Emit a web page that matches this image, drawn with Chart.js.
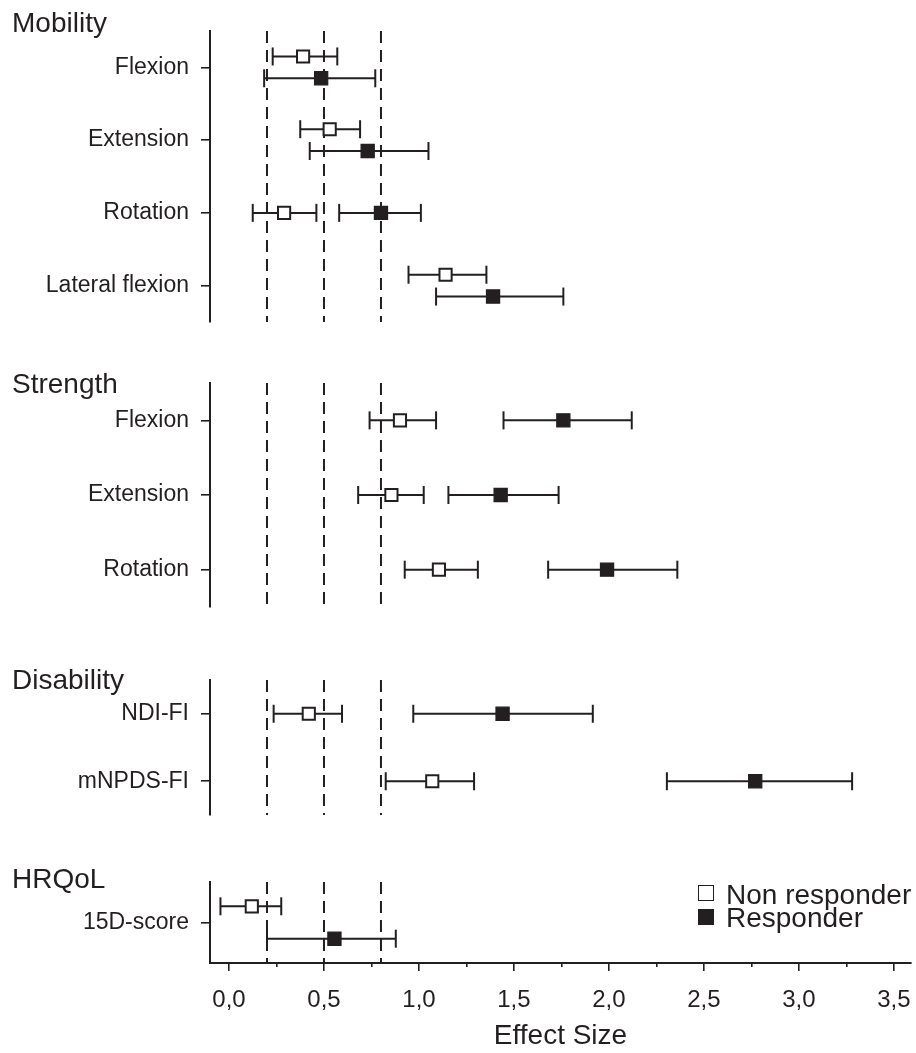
<!DOCTYPE html>
<html>
<head>
<meta charset="utf-8">
<title>Effect Size forest plot</title>
<script src="https://cdn.jsdelivr.net/npm/chart.js@4.4.1/dist/chart.umd.min.js"></script>
<style>
  html, body { margin: 0; padding: 0; background: #ffffff; }
  body { width: 916px; height: 1053px; position: relative; overflow: hidden;
         font-family: 'Liberation Sans', Arial, Helvetica, sans-serif; color: #231f20; }
  canvas { position: absolute; left: 0; }
  .ptitle { position: absolute; left: 12px; font-size: 28px; line-height: 28px; white-space: nowrap; }
  .legtext { position: absolute; left: 726px; font-size: 28px; line-height: 28px; white-space: nowrap; }
  .legbox { position: absolute; left: 698px; box-sizing: border-box; width: 16px; height: 16px; border: 1.6px solid #231f20; }
</style>
</head>
<body>
<canvas id="c0"></canvas>
<canvas id="c1"></canvas>
<canvas id="c2"></canvas>
<canvas id="c3"></canvas>

<div class="ptitle" id="t0"></div>
<div class="ptitle" id="t1"></div>
<div class="ptitle" id="t2"></div>
<div class="ptitle" id="t3"></div>

<div class="legbox" style="top:885px;background:#ffffff;"></div>
<div class="legtext" style="top:881px;" id="l0"></div>
<div class="legbox" style="top:909px;background:#231f20;"></div>
<div class="legtext" style="top:904px;" id="l1"></div>

<script>
// ---------------- data ----------------
const xTickValues = [0, 0.5, 1, 1.5, 2, 2.5, 3, 3.5];
const xTickLabels = ['0,0', '0,5', '1,0', '1,5', '2,0', '2,5', '3,0', '3,5'];
const xMinorTickValues = [0.25, 0.75, 1.25, 1.75, 2.25, 2.75, 3.25];
const referenceLines = [0.2, 0.5, 0.8];
const seriesNames = ['Non responder', 'Responder'];
const axisTitle = 'Effect Size';

const panelTitles = ['Mobility', 'Strength', 'Disability', 'HRQoL'];

const mobilityLabels = ['Flexion', 'Extension', 'Rotation', 'Lateral flexion'];
const mobilityNonES = [0.39, 0.53, 0.29, 1.14];
const mobilityNonLo = [0.23, 0.375, 0.125, 0.945];
const mobilityNonHi = [0.57, 0.69, 0.46, 1.355];
const mobilityRespES = [0.485, 0.73, 0.80, 1.39];
const mobilityRespLo = [0.185, 0.425, 0.58, 1.09];
const mobilityRespHi = [0.77, 1.05, 1.01, 1.76];

const strengthLabels = ['Flexion', 'Extension', 'Rotation'];
const strengthNonES = [0.90, 0.855, 1.105];
const strengthNonLo = [0.74, 0.68, 0.925];
const strengthNonHi = [1.09, 1.025, 1.31];
const strengthRespES = [1.76, 1.43, 1.99];
const strengthRespLo = [1.445, 1.155, 1.68];
const strengthRespHi = [2.12, 1.735, 2.36];

const disabilityLabels = ['NDI-FI', 'mNPDS-FI'];
const disabilityNonES = [0.42, 1.07];
const disabilityNonLo = [0.235, 0.825];
const disabilityNonHi = [0.595, 1.29];
const disabilityRespES = [1.44, 2.77];
const disabilityRespLo = [0.97, 2.305];
const disabilityRespHi = [1.915, 3.28];

const hrqolLabels = ['15D-score'];
const hrqolNonES = [0.12];
const hrqolNonLo = [-0.045];
const hrqolNonHi = [0.275];
const hrqolRespES = [0.555];
const hrqolRespLo = [0.20];
const hrqolRespHi = [0.878];

// ---------------- layout / style ----------------
const INK = '#231f20';
Chart.defaults.font.family = "'Liberation Sans', Arial, Helvetica, sans-serif";
Chart.defaults.color = INK;

const panels = [
  { labels: mobilityLabels, non: [mobilityNonES, mobilityNonLo, mobilityNonHi],
    resp: [mobilityRespES, mobilityRespLo, mobilityRespHi],
    split: [true, true, false, true], offset: 0.15, top: 31, height: 291, titleTop: 9 },
  { labels: strengthLabels, non: [strengthNonES, strengthNonLo, strengthNonHi],
    resp: [strengthRespES, strengthRespLo, strengthRespHi],
    split: [false, false, false], offset: 0, top: 383, height: 224, titleTop: 370 },
  { labels: disabilityLabels, non: [disabilityNonES, disabilityNonLo, disabilityNonHi],
    resp: [disabilityRespES, disabilityRespLo, disabilityRespHi],
    split: [false, false], offset: 0, top: 680, height: 135, titleTop: 666 },
  { labels: hrqolLabels, non: [hrqolNonES, hrqolNonLo, hrqolNonHi],
    resp: [hrqolRespES, hrqolRespLo, hrqolRespHi],
    split: [true], offset: 0.2, top: 882, height: 81, titleTop: 865 }
];

const X_MIN = -0.1, X_MAX = 3.59;
const Y_AXIS_WIDTH = 210;
const X_AXIS_HEIGHT = 90;
const LW = 2;

document.getElementById('l0').textContent = seriesNames[0];
document.getElementById('l1').textContent = seriesNames[1];

function whisker(lo, hi, y) {
  return {
    data: [{ x: lo, y: y }, { x: hi, y: y }],
    showLine: true, borderColor: INK, borderWidth: LW,
    pointStyle: 'line', pointRotation: 90, pointRadius: 9,
    pointBorderColor: INK, pointBorderWidth: LW, pointHoverRadius: 9,
    order: 1
  };
}

function buildPanel(p, i, isLast) {
  const t = document.getElementById('t' + i);
  t.textContent = panelTitles[i];
  t.style.top = p.titleTop + 'px';

  const canvas = document.getElementById('c' + i);
  const padTop = 20;
  const padBottom = isLast ? 0 : 20;
  const h = padTop + p.height + padBottom + (isLast ? X_AXIS_HEIGHT : 0);
  canvas.width = 916; canvas.height = h;
  canvas.style.width = '916px'; canvas.style.height = h + 'px';
  canvas.style.top = (p.top - padTop) + 'px';

  const n = p.labels.length;
  const yNon = p.labels.map((_, k) => k - (p.split[k] ? p.offset : 0));
  const yResp = p.labels.map((_, k) => k + (p.split[k] ? p.offset : 0));

  const datasets = [];
  datasets.push({
    label: seriesNames[0],
    data: p.non[0].map((v, k) => ({ x: v, y: yNon[k] })),
    pointStyle: 'rect', pointRadius: 8.6, pointHoverRadius: 8.6,
    pointBackgroundColor: '#ffffff', pointBorderColor: INK, pointBorderWidth: LW,
    order: 0
  });
  datasets.push({
    label: seriesNames[1],
    data: p.resp[0].map((v, k) => ({ x: v, y: yResp[k] })),
    pointStyle: 'rect', pointRadius: 9.3, pointHoverRadius: 9.3,
    pointBackgroundColor: INK, pointBorderColor: INK, pointBorderWidth: 1.2,
    order: 0
  });
  p.labels.forEach((_, k) => {
    datasets.push(whisker(p.non[1][k], p.non[2][k], yNon[k]));
    datasets.push(whisker(p.resp[1][k], p.resp[2][k], yResp[k]));
  });
  referenceLines.forEach(r => {
    datasets.push({
      data: [{ x: r, y: -0.5 }, { x: r, y: n - 0.5 }],
      showLine: true, borderColor: INK, borderWidth: LW, borderDash: [12, 7],
      pointRadius: 0, pointHoverRadius: 0, order: 2
    });
  });

  const scales = {
    x: {
      type: 'linear', min: X_MIN, max: X_MAX, position: 'bottom', display: isLast,
      afterBuildTicks: s => { s.ticks = xTickValues.map(v => ({ value: v })); },
      afterFit: s => { s.paddingLeft = 0; s.paddingRight = 0; if (isLast) s.height = X_AXIS_HEIGHT; },
      ticks: { autoSkip: false, maxRotation: 0, minRotation: 0, padding: 15, color: INK,
               font: { size: 24 }, callback: (v, idx) => xTickLabels[idx] },
      grid: { drawOnChartArea: false, drawTicks: true, tickLength: 8, lineWidth: 1.6, color: INK },
      border: { display: true, color: INK, width: 2 },
      title: { display: true, text: axisTitle, color: INK, font: { size: 28 }, padding: { top: 0, bottom: 0 } }
    },
    y: {
      type: 'linear', reverse: true, min: -0.5, max: n - 0.5, position: 'left',
      afterBuildTicks: s => { s.ticks = p.labels.map((_, k) => ({ value: k })); },
      afterFit: s => { s.width = Y_AXIS_WIDTH; s.paddingTop = 0; s.paddingBottom = 0; },
      ticks: { autoSkip: false, padding: 12, color: INK, font: { size: 23 },
               callback: (v, idx) => p.labels[idx] },
      grid: { drawOnChartArea: false, drawTicks: true, tickLength: 9, lineWidth: 1.6, color: INK },
      border: { display: true, color: INK, width: 2 }
    }
  };
  if (isLast) {
    scales.x2 = {
      type: 'linear', axis: 'x', min: X_MIN, max: X_MAX, position: { y: n - 0.5 },
      afterBuildTicks: s => { s.ticks = xMinorTickValues.map(v => ({ value: v })); },
      afterFit: s => { s.paddingLeft = 0; s.paddingRight = 0; s.paddingTop = 0; s.paddingBottom = 0; },
      ticks: { display: false },
      grid: { drawOnChartArea: false, drawTicks: true, tickLength: 4, lineWidth: 1.6, color: INK },
      border: { display: false }
    };
  }

  return new Chart(canvas, {
    type: 'scatter',
    data: { datasets: datasets },
    options: {
      responsive: false, maintainAspectRatio: false, animation: false, devicePixelRatio: 1,
      events: [],
      layout: { autoPadding: false, padding: { left: 0, right: 5, top: padTop, bottom: padBottom } },
      plugins: { legend: { display: false }, tooltip: { enabled: false }, title: { display: false } },
      scales: scales
    }
  });
}

panels.forEach((p, i) => buildPanel(p, i, i === panels.length - 1));
</script>
</body>
</html>
